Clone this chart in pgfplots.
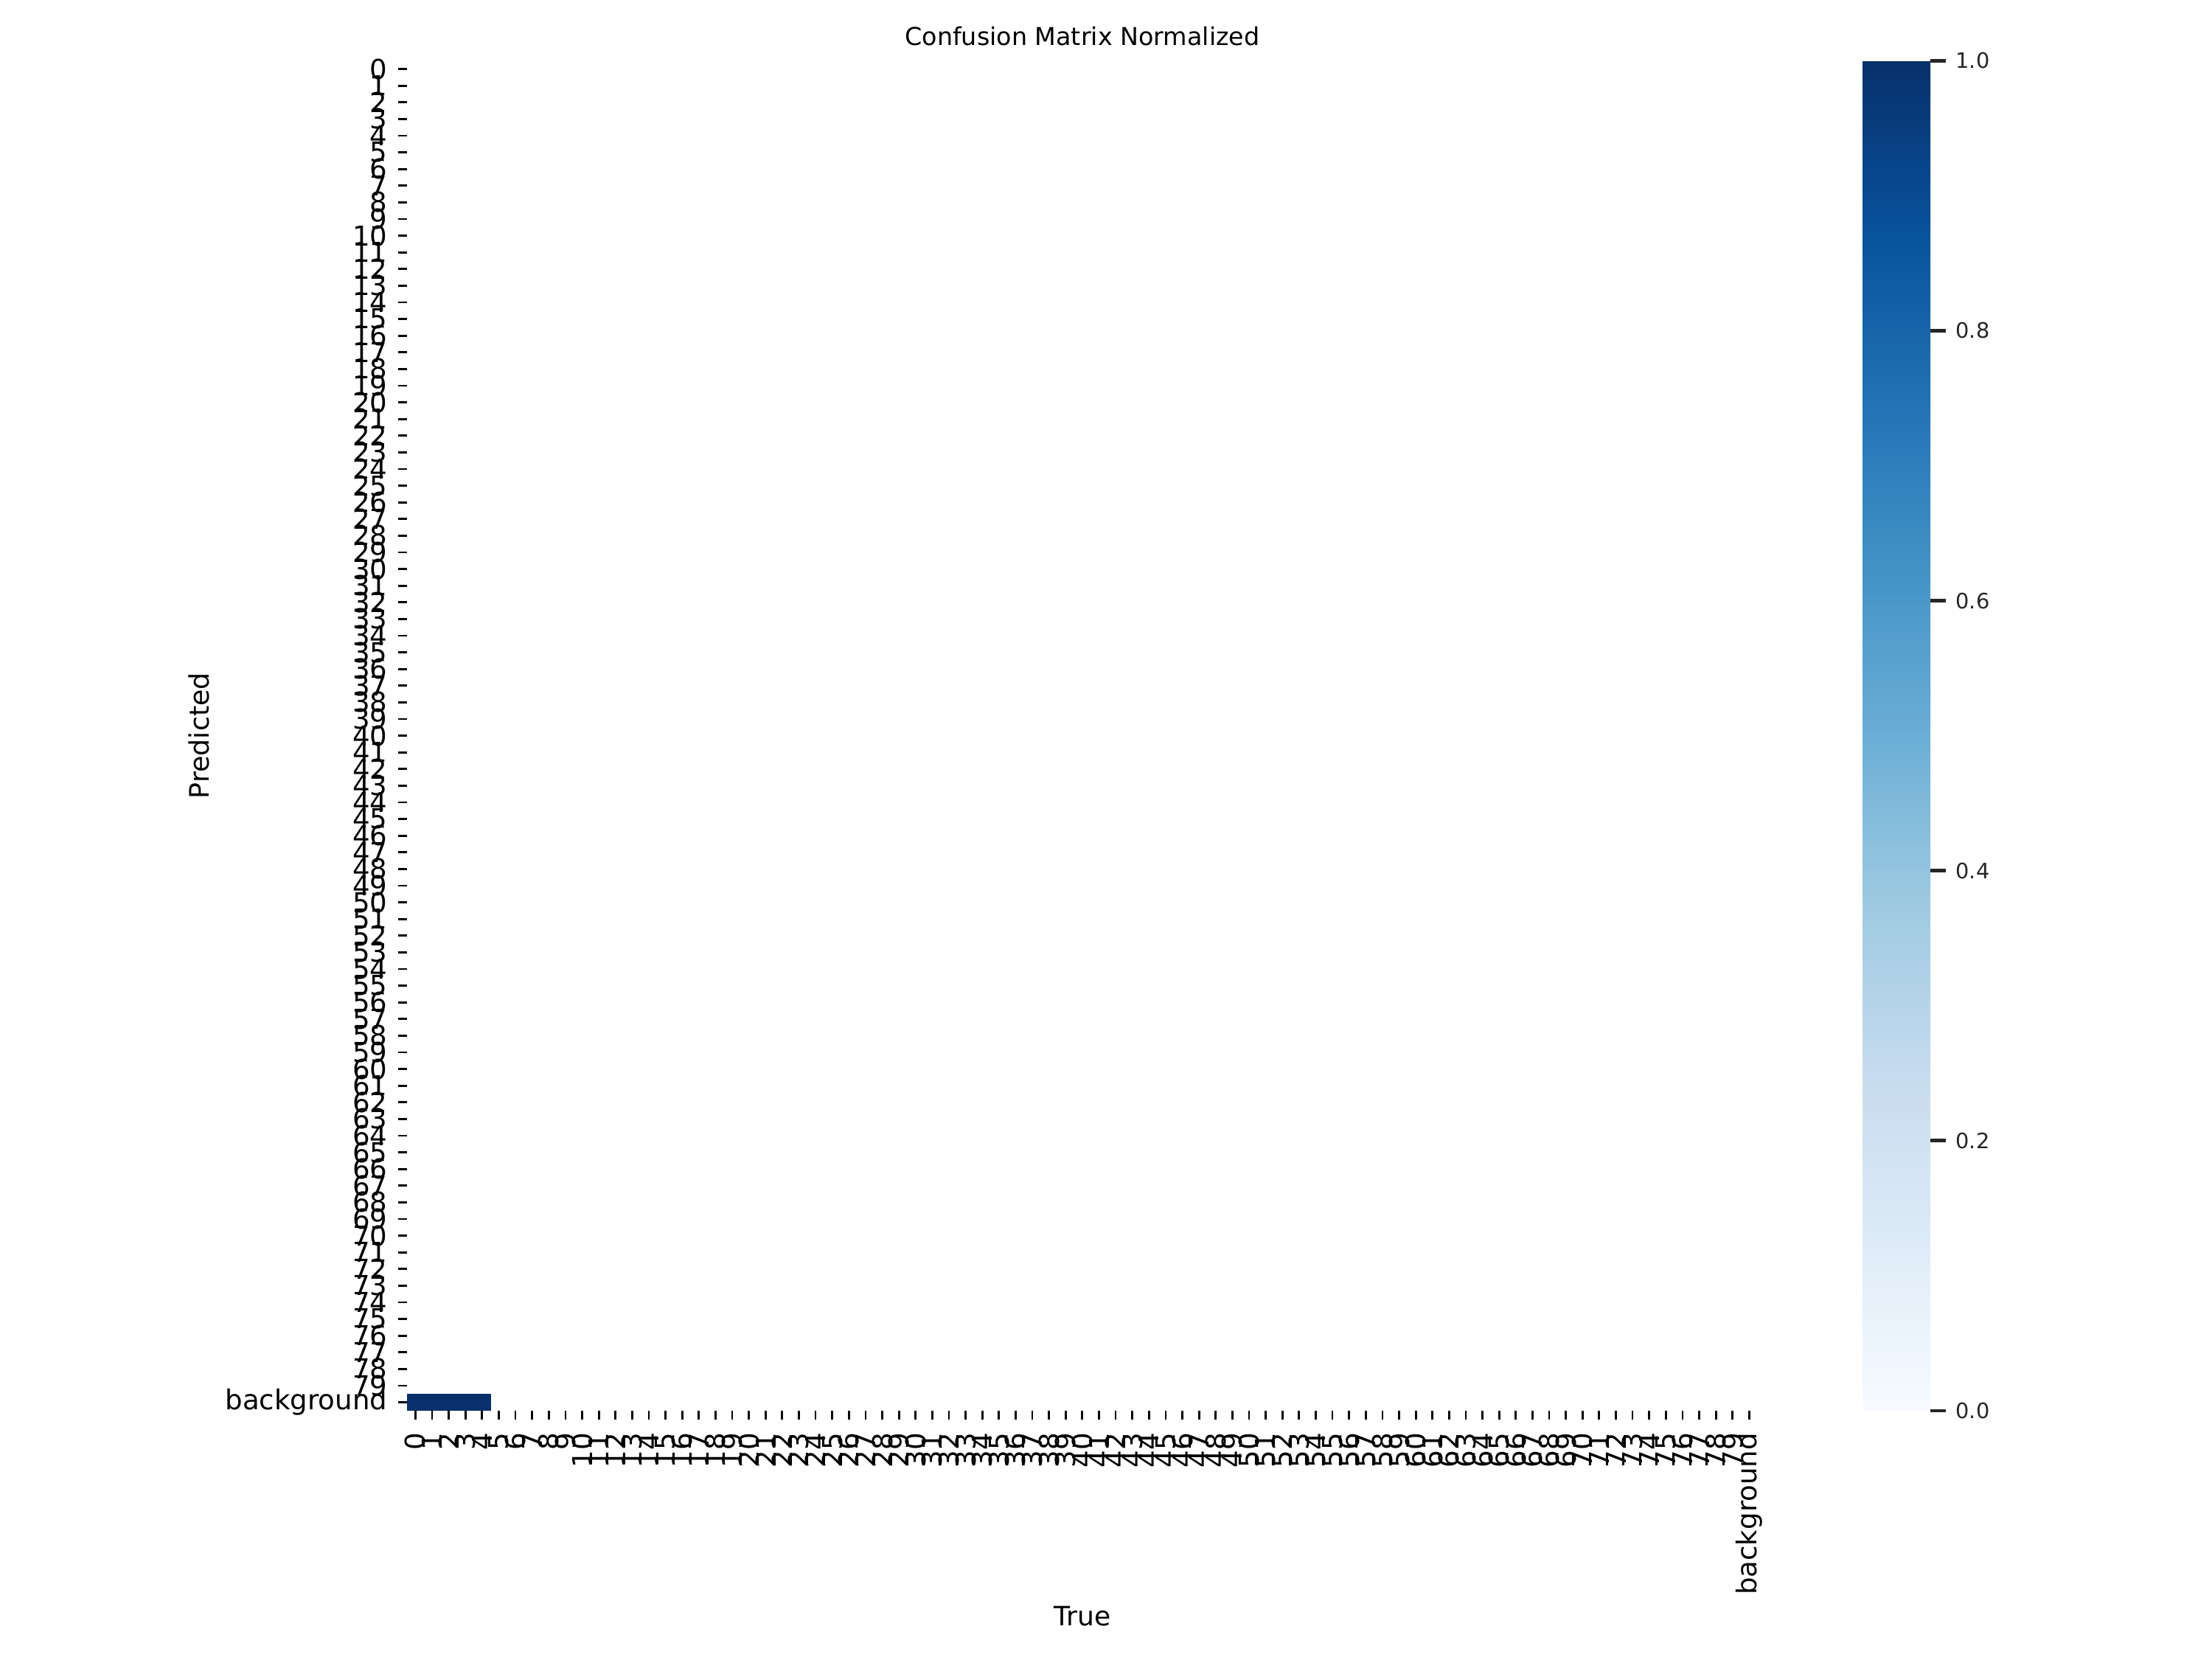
\documentclass[border=0pt]{standalone}
\usepackage{fontspec}
\setmainfont{DejaVu Sans}
\usepackage{pgfplots}
\pgfplotsset{compat=1.18}
\usepgfplotslibrary{patchplots}
\pgfplotsset{colormap={blues}{rgb255=(247,251,255) rgb255=(222,235,247) rgb255=(198,219,239) rgb255=(158,202,225) rgb255=(107,174,214) rgb255=(66,146,198) rgb255=(33,113,181) rgb255=(8,81,156) rgb255=(8,48,107)}}
\definecolor{tickgray}{HTML}{262626}
\begin{document}
\begin{tikzpicture}
\useasboundingbox (-159pt,-97.1pt) rectangle (705pt,550.9pt);
\begin{axis}[
  at={(0,0)}, anchor=south west,
  scale only axis, width=527.5pt, height=527.2pt,
  xmin=-0.5, xmax=80.5, ymin=-0.5, ymax=80.5,
  y dir=reverse,
  colormap name=blues,
  point meta min=0, point meta max=1,
  axis line style={draw=none},
  xtick={0,...,80}, ytick={0,...,80},
  xticklabels={0,1,2,3,4,5,6,7,8,9,10,11,12,13,14,15,16,17,18,19,20,21,22,23,24,25,26,27,28,29,30,31,32,33,34,35,36,37,38,39,40,41,42,43,44,45,46,47,48,49,50,51,52,53,54,55,56,57,58,59,60,61,62,63,64,65,66,67,68,69,70,71,72,73,74,75,76,77,78,79,background},
  yticklabels={0,1,2,3,4,5,6,7,8,9,10,11,12,13,14,15,16,17,18,19,20,21,22,23,24,25,26,27,28,29,30,31,32,33,34,35,36,37,38,39,40,41,42,43,44,45,46,47,48,49,50,51,52,53,54,55,56,57,58,59,60,61,62,63,64,65,66,67,68,69,70,71,72,73,74,75,76,77,78,79,background},
  xtick pos=bottom, ytick pos=left,
  tick align=outside,
  major tick length=3.5pt,
  tick style={black, line width=0.8pt},
  ticklabel style={font=\fontsize{10.7}{12}\selectfont, black},
  xticklabel style={rotate=90, anchor=east, inner sep=0pt, xshift=-5pt},
  yticklabel style={anchor=east, inner sep=0pt, xshift=-4pt},
  title={Confusion Matrix Normalized},
  title style={font=\fontsize{9.6}{11}\selectfont, at={(axis description cs:0.5,1)}, anchor=base, inner sep=0pt},
  xlabel={True},
  xlabel style={font=\fontsize{10.4}{12}\selectfont, at={(axis description cs:0.5,0)}, anchor=base, yshift=-84.1pt, inner sep=0pt},
  ylabel={Predicted},
  ylabel style={font=\fontsize{10.5}{12}\selectfont, at={(axis description cs:-0.1469,0.5)}, anchor=base, inner sep=0pt},
  colorbar right,
  colorbar/width=26.5pt,
  colorbar style={
    scale only axis,
    at={(parent axis.south east)}, anchor=south west, xshift=32.5pt,
    width=26.5pt, height=527.2pt,
    axis line style={draw=none},
    ytick={0,0.2,0.4,0.6,0.8,1.0},
    ytick pos=right,
    tick align=outside,
    major tick length=6pt,
    tick style={tickgray, line width=1.3pt},
    yticklabel style={font=\fontsize{8.3}{10}\selectfont, color=tickgray, inner sep=0pt, xshift=3.7pt,
      /pgf/number format/.cd, fixed, fixed zerofill, precision=1, assume math mode=true},
  },
]
\addplot[patch, patch type=rectangle, shader=flat, point meta=explicit] table[meta=c] {
x y c
-0.5 79.5 1
0.5 79.5 1
0.5 80.5 1
-0.5 80.5 1
0.5 79.5 1
1.5 79.5 1
1.5 80.5 1
0.5 80.5 1
1.5 79.5 1
2.5 79.5 1
2.5 80.5 1
1.5 80.5 1
2.5 79.5 1
3.5 79.5 1
3.5 80.5 1
2.5 80.5 1
3.5 79.5 1
4.5 79.5 1
4.5 80.5 1
3.5 80.5 1
};
\end{axis}
\end{tikzpicture}
\end{document}
